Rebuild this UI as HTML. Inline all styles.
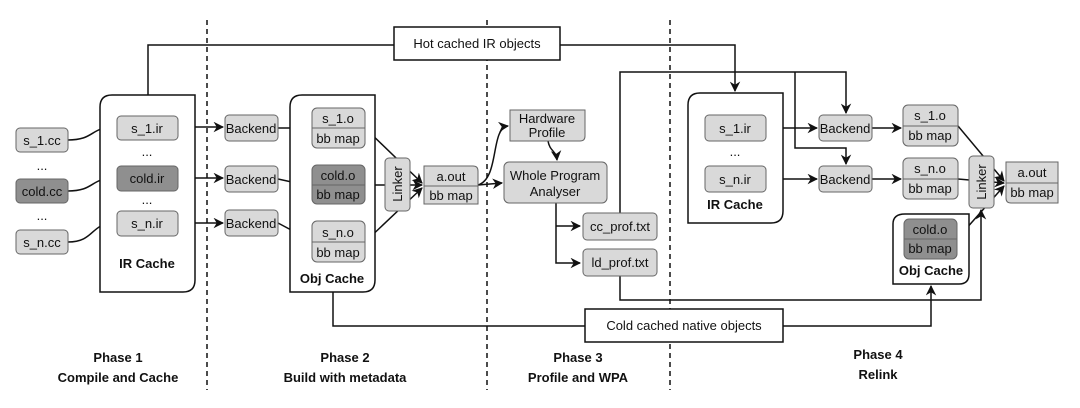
<!DOCTYPE html>
<html><head><meta charset="utf-8"><style>
html,body{margin:0;padding:0;background:#fff}
svg{display:block}
text{font-family:"Liberation Sans",sans-serif;font-size:13px;fill:#111}
.b{font-weight:bold}
</style></head><body>
<svg width="1080" height="408" viewBox="0 0 1080 408" xmlns="http://www.w3.org/2000/svg">
<defs>
<marker id="a" viewBox="0 0 10 10" refX="9" refY="5" markerWidth="7" markerHeight="7" orient="auto"><path d="M0,0L10,5L0,10L3,5z" fill="#111"/></marker>
</defs>
<g stroke="#111" stroke-width="1.5" stroke-dasharray="5,4" fill="none">
<line x1="207" y1="20" x2="207" y2="390"/>
<line x1="487" y1="20" x2="487" y2="390"/>
<line x1="670" y1="20" x2="670" y2="390"/>
</g>
<g fill="none" stroke="#111" stroke-width="1.5">
<polyline points="148,95 148,45 394,45"/>
<polyline points="560,45 735,45 735,91" marker-end="url(#a)"/>
<polyline points="620,213 620,72 846,72 846,113" marker-end="url(#a)"/>
<polyline points="795,72 795,148 846,148 846,164" marker-end="url(#a)"/>
<polyline points="620,276 620,300 981,300 981,210" marker-end="url(#a)"/>
<polyline points="333,292 333,326 585,326"/>
<polyline points="783,326 931,326 931,286" marker-end="url(#a)"/>
<path d="M68,140 C95,140 90,127 115,127" marker-end="url(#a)"/>
<path d="M68,191 C95,191 90,178 115,178" marker-end="url(#a)"/>
<path d="M68,242 C95,242 90,223 115,223" marker-end="url(#a)"/>
<line x1="178" y1="127" x2="223" y2="127" marker-end="url(#a)"/>
<line x1="178" y1="178" x2="223" y2="178" marker-end="url(#a)"/>
<line x1="178" y1="223" x2="223" y2="223" marker-end="url(#a)"/>
<line x1="278" y1="128" x2="310" y2="128" marker-end="url(#a)"/>
<line x1="278" y1="179" x2="310" y2="186" marker-end="url(#a)"/>
<line x1="278" y1="223" x2="310" y2="240" marker-end="url(#a)"/>
<line x1="365" y1="128" x2="422" y2="183" marker-end="url(#a)"/>
<line x1="365" y1="185" x2="422" y2="185" marker-end="url(#a)"/>
<line x1="365" y1="242" x2="422" y2="188" marker-end="url(#a)"/>
<path d="M478,185 C500,178 490,128 508,126" marker-end="url(#a)"/>
<line x1="478" y1="185" x2="502" y2="183" marker-end="url(#a)"/>
<path d="M548,141 C550,152 556,150 557,160" marker-end="url(#a)"/>
<polyline points="556,203 556,263 580,263" marker-end="url(#a)"/>
<line x1="556" y1="226" x2="580" y2="226" marker-end="url(#a)"/>
<line x1="766" y1="128" x2="817" y2="128" marker-end="url(#a)"/>
<line x1="766" y1="179" x2="817" y2="179" marker-end="url(#a)"/>
<line x1="872" y1="128" x2="901" y2="128" marker-end="url(#a)"/>
<line x1="872" y1="179" x2="901" y2="179" marker-end="url(#a)"/>
<line x1="958" y1="126" x2="1004" y2="181" marker-end="url(#a)"/>
<line x1="958" y1="179" x2="1004" y2="183" marker-end="url(#a)"/>
<line x1="957" y1="239" x2="1004" y2="186" marker-end="url(#a)"/>
</g>
<g fill="#fff" stroke="#111" stroke-width="1.5">
<path d="M112,95 H195 V280 Q195,292 183,292 H100 V107 Q100,95 112,95Z"/>
<path d="M302,95 H375 V280 Q375,292 363,292 H290 V107 Q290,95 302,95Z"/>
<path d="M700,93 H783 V211 Q783,223 771,223 H688 V105 Q688,93 700,93Z"/>
<path d="M905,214 H969 V274 Q969,284 959,284 H893 V224 Q893,214 905,214Z"/>
<rect x="394" y="27" width="166" height="33"/>
<rect x="585" y="309" width="198" height="33"/>
</g>
<g stroke="#666" stroke-width="1" fill="#d9d9d9">
<rect x="16" y="128" width="52" height="24" rx="4"/>
<rect x="16" y="179" width="52" height="24" rx="4" fill="#8f8f8f"/>
<rect x="16" y="230" width="52" height="24" rx="4"/>
<rect x="117" y="116" width="61" height="24" rx="4"/>
<rect x="117" y="166" width="61" height="25" rx="4" fill="#8f8f8f"/>
<rect x="117" y="211" width="61" height="25" rx="4"/>
<rect x="225" y="115" width="53" height="26" rx="4"/>
<rect x="225" y="166" width="53" height="26" rx="4"/>
<rect x="225" y="210" width="53" height="26" rx="4"/>
<rect x="312" y="108" width="53" height="40" rx="5"/>
<rect x="312" y="165" width="53" height="39" rx="5" fill="#8f8f8f"/>
<rect x="312" y="221" width="53" height="41" rx="5"/>
<rect x="385" y="158" width="25" height="53" rx="4"/>
<path d="M424,166 H473 Q478,166 478,171 V204 H424Z"/>
<path d="M510,110 H585 V136 Q585,141 580,141 H510Z"/>
<rect x="504" y="162" width="103" height="41" rx="5"/>
<rect x="583" y="213" width="74" height="27" rx="4"/>
<rect x="583" y="249" width="74" height="27" rx="4"/>
<rect x="705" y="115" width="61" height="26" rx="4"/>
<rect x="705" y="166" width="61" height="26" rx="4"/>
<rect x="819" y="115" width="53" height="26" rx="4"/>
<rect x="819" y="166" width="53" height="26" rx="4"/>
<rect x="903" y="105" width="55" height="41" rx="5"/>
<rect x="903" y="158" width="55" height="41" rx="5"/>
<rect x="904" y="219" width="53" height="40" rx="5" fill="#8f8f8f"/>
<rect x="969" y="156" width="25" height="52" rx="4"/>
<path d="M1006,162 H1058 V203 H1011 Q1006,203 1006,198Z"/>
</g>
<g stroke="#666" stroke-width="1">
<line x1="312" y1="128" x2="365" y2="128"/><line x1="312" y1="185" x2="365" y2="185"/><line x1="312" y1="242" x2="365" y2="242"/>
<line x1="424" y1="186" x2="478" y2="186"/>
<line x1="903" y1="126" x2="958" y2="126"/><line x1="903" y1="179" x2="958" y2="179"/><line x1="904" y1="239" x2="957" y2="239"/>
<line x1="1006" y1="183" x2="1058" y2="183"/>
</g>
<g text-anchor="middle">
<text x="477" y="48">Hot cached IR objects</text>
<text x="684" y="330">Cold cached native objects</text>
<text x="42" y="145">s_1.cc</text><text x="42" y="196">cold.cc</text><text x="42" y="247">s_n.cc</text>
<text x="42" y="170">...</text><text x="42" y="220">...</text>
<text x="147" y="133">s_1.ir</text><text x="147" y="183">cold.ir</text><text x="147" y="228">s_n.ir</text>
<text x="147" y="156">...</text><text x="147" y="204">...</text>
<text class="b" x="147" y="268">IR Cache</text>
<text x="251" y="133">Backend</text><text x="251" y="184">Backend</text><text x="251" y="228">Backend</text>
<text x="338" y="123">s_1.o</text><text x="338" y="143">bb map</text>
<text x="338" y="180">cold.o</text><text x="338" y="199">bb map</text>
<text x="338" y="237">s_n.o</text><text x="338" y="257">bb map</text>
<text class="b" x="332" y="283">Obj Cache</text>
<text x="0" y="0" transform="translate(402,184) rotate(-90)">Linker</text>
<text x="451" y="181">a.out</text><text x="451" y="200">bb map</text>
<text x="547" y="123">Hardware</text><text x="547" y="137">Profile</text>
<text x="555" y="180">Whole Program</text><text x="555" y="196">Analyser</text>
<text x="620" y="231">cc_prof.txt</text><text x="620" y="267">ld_prof.txt</text>
<text x="735" y="133">s_1.ir</text><text x="735" y="184">s_n.ir</text><text x="735" y="156">...</text>
<text class="b" x="735" y="209">IR Cache</text>
<text x="845" y="133">Backend</text><text x="845" y="184">Backend</text>
<text x="930" y="120">s_1.o</text><text x="930" y="140">bb map</text>
<text x="930" y="173">s_n.o</text><text x="930" y="193">bb map</text>
<text x="930" y="234">cold.o</text><text x="930" y="253">bb map</text>
<text class="b" x="931" y="275">Obj Cache</text>
<text x="0" y="0" transform="translate(986,182) rotate(-90)">Linker</text>
<text x="1032" y="177">a.out</text><text x="1032" y="197">bb map</text>
<text class="b" x="118" y="362">Phase 1</text><text class="b" x="118" y="382">Compile and Cache</text>
<text class="b" x="345" y="362">Phase 2</text><text class="b" x="345" y="382">Build with metadata</text>
<text class="b" x="578" y="362">Phase 3</text><text class="b" x="578" y="382">Profile and WPA</text>
<text class="b" x="878" y="359">Phase 4</text><text class="b" x="878" y="379">Relink</text>
</g>
</svg>
</body></html>
